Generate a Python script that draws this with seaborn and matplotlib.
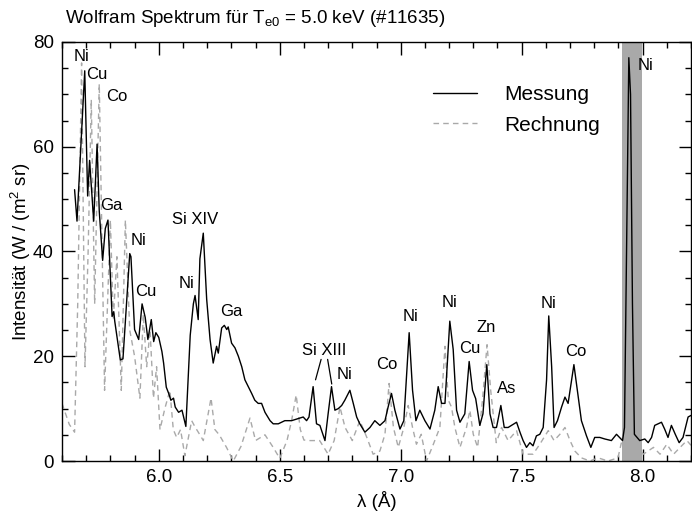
import numpy as np
import pandas as pd
import matplotlib
matplotlib.use("Agg")
import matplotlib.pyplot as plt
import seaborn as sns
from matplotlib.ticker import MultipleLocator, FormatStrFormatter

# ---------------- data ----------------
mess_x = [5.652, 5.662, 5.694, 5.706, 5.714, 5.731, 5.745, 5.754, 5.768, 5.779,
          5.790, 5.807, 5.814, 5.818, 5.841, 5.852, 5.880, 5.885, 5.900, 5.917,
          5.931, 5.944, 5.955, 5.969, 5.979, 5.988, 6.000, 6.013, 6.020, 6.031,
          6.041, 6.050, 6.061, 6.068, 6.082, 6.096, 6.112, 6.130, 6.143, 6.150,
          6.163, 6.170, 6.184, 6.198, 6.212, 6.225, 6.239, 6.246, 6.260, 6.271,
          6.281, 6.287, 6.301, 6.315, 6.329, 6.343, 6.356, 6.370, 6.384, 6.397,
          6.411, 6.425, 6.439, 6.460, 6.473, 6.494, 6.521, 6.549, 6.576, 6.597,
          6.611, 6.621, 6.638, 6.652, 6.666, 6.687, 6.700, 6.714, 6.728, 6.742,
          6.756, 6.769, 6.790, 6.804, 6.818, 6.831, 6.852, 6.873, 6.893, 6.914,
          6.935, 6.948, 6.962, 6.976, 6.997, 7.013, 7.035, 7.049, 7.063, 7.079,
          7.100, 7.121, 7.141, 7.155, 7.169, 7.183, 7.203, 7.217, 7.231, 7.245,
          7.265, 7.283, 7.297, 7.310, 7.327, 7.340, 7.356, 7.369, 7.382, 7.396,
          7.414, 7.428, 7.444, 7.458, 7.479, 7.493, 7.506, 7.520, 7.534, 7.547,
          7.561, 7.575, 7.589, 7.603, 7.612, 7.624, 7.634, 7.648, 7.665, 7.679,
          7.692, 7.716, 7.734, 7.747, 7.768, 7.786, 7.802, 7.823, 7.844, 7.871,
          7.892, 7.917, 7.925, 7.935, 7.943, 7.950, 7.958, 7.966, 7.988, 8.009,
          8.023, 8.037, 8.050, 8.064, 8.078, 8.091, 8.105, 8.119, 8.135, 8.151,
          8.167, 8.188, 8.200]
mess_y = [51.8, 45.8, 74.5, 50.6, 57.4, 45.8, 60.5, 47.7, 38.3, 44.4,
          46.0, 27.6, 28.5, 26.7, 19.3, 19.5, 39.6, 39.0, 25.1, 23.2,
          30.0, 27.4, 23.2, 27.0, 22.8, 24.5, 23.6, 20.9, 18.7, 14.1,
          12.9, 11.6, 12.0, 10.3, 9.3, 9.7, 6.6, 24.0, 30.0, 31.6,
          27.0, 38.6, 43.5, 30.9, 23.2, 18.7, 21.9, 20.6, 25.4, 25.9,
          25.1, 25.6, 22.5, 21.6, 20.0, 18.0, 15.5, 14.2, 12.9, 11.6,
          11.0, 11.0, 9.3, 7.7, 7.1, 7.1, 7.7, 7.7, 8.1, 8.4,
          7.7, 8.4, 14.2, 7.1, 6.8, 3.9, 9.0, 14.2, 9.7, 10.0,
          10.6, 11.6, 13.5, 11.0, 8.4, 7.1, 5.5, 6.4, 7.7, 6.8,
          7.7, 10.3, 12.9, 9.7, 6.1, 7.7, 24.5, 13.5, 7.7, 9.7,
          7.7, 6.1, 9.7, 14.2, 11.0, 11.0, 26.7, 21.3, 9.7, 7.4,
          9.0, 19.0, 13.5, 11.9, 6.8, 9.0, 18.4, 9.0, 6.4, 6.4,
          10.6, 6.4, 6.4, 6.8, 7.4, 5.5, 3.9, 2.6, 3.5, 2.9,
          4.8, 5.1, 6.4, 15.5, 27.7, 18.0, 6.4, 7.7, 10.3, 12.2,
          11.0, 18.4, 12.2, 7.7, 4.8, 2.6, 4.5, 4.5, 4.2, 3.9,
          5.1, 3.9, 6.4, 45.0, 77.0, 70.0, 30.0, 5.1, 3.9, 4.2,
          3.5, 4.5, 6.8, 7.1, 7.4, 6.1, 4.5, 6.8, 5.1, 3.5,
          4.5, 8.4, 8.7]

rech_x = [5.600, 5.615, 5.630, 5.652, 5.665, 5.681, 5.695, 5.708, 5.721, 5.735,
          5.754, 5.776, 5.800, 5.812, 5.827, 5.845, 5.862, 5.880, 5.900, 5.922,
          5.936, 5.950, 5.964, 5.978, 5.991, 6.005, 6.025, 6.046, 6.060, 6.074,
          6.090, 6.108, 6.136, 6.150, 6.170, 6.184, 6.216, 6.232, 6.250, 6.280,
          6.308, 6.340, 6.377, 6.400, 6.439, 6.473, 6.500, 6.530, 6.549, 6.568,
          6.585, 6.600, 6.625, 6.665, 6.700, 6.725, 6.749, 6.770, 6.800, 6.831,
          6.860, 6.886, 6.914, 6.935, 6.952, 6.970, 6.990, 7.013, 7.031, 7.049,
          7.065, 7.085, 7.107, 7.135, 7.162, 7.183, 7.197, 7.210, 7.224, 7.245,
          7.272, 7.286, 7.300, 7.318, 7.338, 7.357, 7.372, 7.395, 7.417, 7.444,
          7.479, 7.506, 7.547, 7.575, 7.610, 7.634, 7.658, 7.679, 7.700, 7.720,
          7.747, 7.782, 7.816, 7.857, 7.898, 7.930, 7.950, 7.968, 8.003, 8.045,
          8.072, 8.100, 8.128, 8.155, 8.183, 8.200]
rech_y = [11.0, 9.0, 7.0, 5.5, 30.0, 76.0, 18.0, 40.0, 69.0, 30.0,
          72.0, 13.5, 46.0, 27.0, 39.0, 13.5, 46.0, 25.0, 20.0, 12.0,
          28.0, 18.0, 25.0, 12.0, 18.0, 6.0, 10.0, 13.5, 6.0, 4.5,
          6.0, 1.0, 7.7, 6.5, 5.0, 3.9, 12.0, 6.0, 5.0, 2.6,
          0.0, 2.8, 8.2, 3.9, 5.0, 2.6, 0.5, 3.9, 7.7, 12.6,
          6.0, 4.0, 3.9, 3.9, 1.3, 3.9, 10.3, 6.4, 3.9, 7.7,
          4.5, 1.3, 1.9, 5.1, 14.8, 6.4, 2.6, 6.4, 10.6, 6.4,
          3.2, 5.1, 0.0, 3.2, 6.4, 21.9, 11.6, 10.3, 6.4, 2.6,
          6.4, 9.7, 5.1, 2.6, 11.6, 22.2, 13.5, 3.5, 6.4, 3.9,
          5.8, 1.3, 1.3, 3.2, 5.8, 3.9, 5.1, 6.4, 3.9, 1.9,
          0.6, 0.0, 0.6, 0.0, 0.6, 7.1, 12.9, 3.9, 1.3, 2.6,
          1.3, 3.2, 1.3, 2.6, 3.9, 3.0]

# line identifications: label, x, y (data coordinates of label centre)
id_labels = ["Ni", "Cu", "Co", "Ga", "Ni", "Cu", "Si XIV", "Ni", "Ga", "Si XIII",
             "Ni", "Co", "Ni", "Ni", "Cu", "Zn", "As", "Ni", "Co", "Ni"]
id_x = [5.681, 5.743, 5.826, 5.805, 5.918, 5.947, 6.149, 6.115, 6.300, 6.685,
        6.766, 6.941, 7.040, 7.202, 7.285, 7.355, 7.438, 7.609, 7.725, 8.013]
id_y = [77.3, 73.8, 69.6, 48.7, 42.1, 32.4, 46.1, 33.8, 28.5, 21.1,
        16.5, 18.4, 27.5, 30.2, 21.5, 25.4, 13.8, 30.0, 21.0, 75.6]

band_x0, band_x1 = 7.913, 7.998

xticks = [6.0, 6.5, 7.0, 7.5, 8.0]
yticks = [0, 20, 40, 60, 80]

# ---------------- styling ----------------
sns.set_theme(style="white")
plt.rcParams["font.family"] = ["Liberation Sans", "DejaVu Sans"]
plt.rcParams["mathtext.fontset"] = "custom"
plt.rcParams["mathtext.rm"] = "Liberation Sans"
plt.rcParams["mathtext.it"] = "Liberation Sans"
plt.rcParams["mathtext.bf"] = "Liberation Sans:bold"
plt.rcParams["text.color"] = "black"
plt.rcParams["axes.labelcolor"] = "black"
plt.rcParams["legend.labelcolor"] = "black"

fig = plt.figure(figsize=(6.92, 5.12), dpi=100)
ax = fig.add_axes([62 / 692, 1 - 461 / 512, 629 / 692, 419 / 512])

df_m = pd.DataFrame({"x": mess_x, "y": mess_y})
df_r = pd.DataFrame({"x": rech_x, "y": rech_y})

ax.axvspan(band_x0, band_x1, color="#a9a9a9", lw=0, zorder=0)

sns.lineplot(data=df_r, x="x", y="y", ax=ax, color="#a9a9a9", lw=1.0,
             linestyle=(0, (4, 3)), estimator=None, sort=False, label="Rechnung",
             zorder=2)
sns.lineplot(data=df_m, x="x", y="y", ax=ax, color="black", lw=1.0,
             estimator=None, sort=False, label="Messung", zorder=3)

ax.set_xlim(5.6, 8.2)
ax.set_ylim(0, 80)
ax.set_xticks(xticks)
ax.set_yticks(yticks)
ax.xaxis.set_major_formatter(FormatStrFormatter("%.1f"))
ax.xaxis.set_minor_locator(MultipleLocator(0.1))
ax.yaxis.set_minor_locator(MultipleLocator(5))
ax.tick_params(which="both", direction="in", top=True, right=True,
               bottom=True, left=True, colors="black", labelsize=13.5, width=1)
ax.tick_params(which="major", length=9, pad=6)
ax.tick_params(which="minor", length=4.5)
for s in ax.spines.values():
    s.set_color("black")
    s.set_linewidth(1.0)

ax.set_xlabel("λ (Å)", fontsize=13.5, color="black")
ax.set_ylabel("Intensität (W / (m$^{2}$ sr)", fontsize=13.5, color="black")
ax.xaxis.set_label_coords(0.5, -0.072)
ax.yaxis.set_label_coords(-0.046, 0.5)

for lab, xx, yy in zip(id_labels, id_x, id_y):
    ax.text(xx, yy, lab, ha="center", va="center", fontsize=12, color="black", zorder=4)

# connector lines for Si XIII
ax.plot([6.671, 6.648], [19.4, 15.5], color="black", lw=0.9)
ax.plot([6.698, 6.715], [19.4, 14.7], color="black", lw=0.9)

handles, labels = ax.get_legend_handles_labels()
order = [labels.index("Messung"), labels.index("Rechnung")]
ax.legend([handles[i] for i in order], [labels[i] for i in order],
          loc="upper left", bbox_to_anchor=(0.56, 0.942), frameon=False,
          fontsize=15, handlelength=2.1, handletextpad=1.3, labelspacing=0.55)

fig.text(65 / 692, 1 - 18.5 / 512, "Wolfram Spektrum für T$_{\\mathrm{e0}}$ = 5.0 keV (#11635)",
         ha="left", va="center", fontsize=13.5, color="black")

fig.savefig("out.png", dpi=100)
